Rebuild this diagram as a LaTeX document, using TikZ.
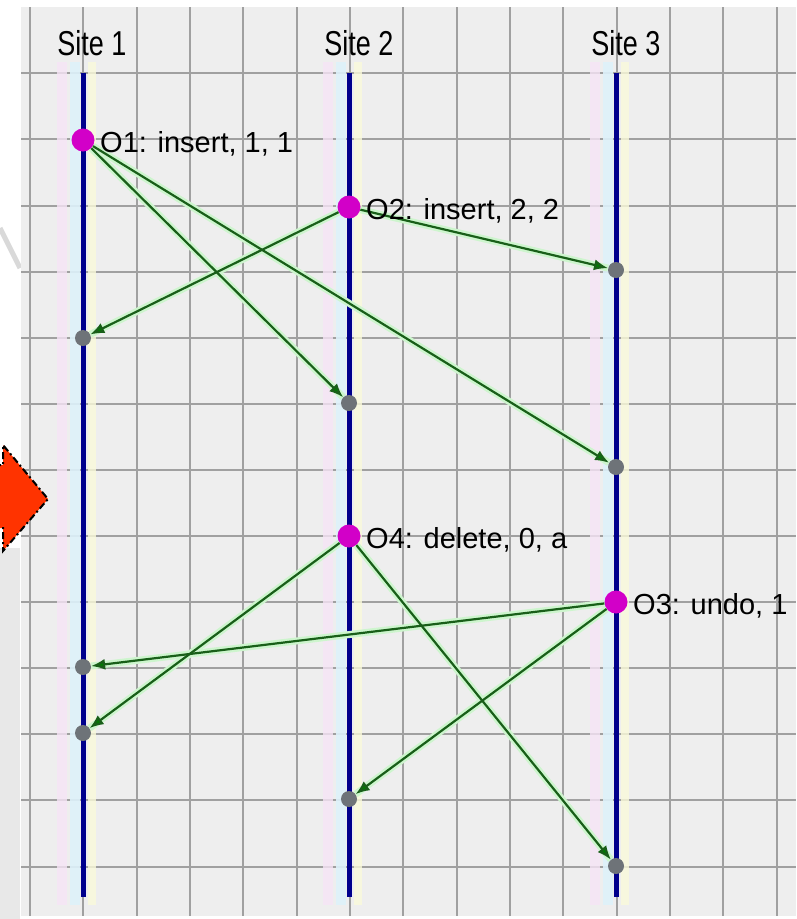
\documentclass[tikz,border=0pt]{standalone}
\usepackage{fontspec}
\setmainfont{Liberation Sans}
\usetikzlibrary{arrows.meta}
\definecolor{panelbg}{RGB}{238,238,238}
\definecolor{gridc}{RGB}{160,160,160}
\definecolor{sitec}{RGB}{0,0,140}
\definecolor{msgc}{RGB}{25,95,25}
\definecolor{headc}{RGB}{0,125,0}
\definecolor{haloc}{RGB}{205,245,205}
\definecolor{opc}{RGB}{210,0,200}
\definecolor{rcvc}{RGB}{110,115,120}
\definecolor{orangec}{RGB}{255,51,0}
\definecolor{palecyan}{RGB}{222,242,250}
\definecolor{palepink}{RGB}{246,228,246}
\definecolor{paleyel}{RGB}{250,250,218}
\begin{document}
\begin{tikzpicture}[x=1pt,y=-1pt,
  opdot/.style={circle,fill=opc,minimum size=23pt,inner sep=0pt},
  rcvdot/.style={circle,fill=rcvc,minimum size=16pt,inner sep=0pt},
  msg/.style={draw=msgc,line width=2.2pt,-{Latex[length=14pt,width=11pt,fill=headc]}},
  halo/.style={draw=haloc,line width=7pt},
  oplabel/.style={anchor=base west,inner sep=0pt,font=\fontsize{29}{30}\selectfont},
  sitelabel/.style={anchor=base,inner sep=0pt,font=\fontsize{27}{28}\selectfont},
  siteline/.style={draw=sitec,line width=5pt},
  gridline/.style={draw=gridc,line width=2pt}]
\useasboundingbox (0,0) rectangle (796,919);
\fill[white] (0,0) rectangle (796,919);
% left margin texture
\fill[gray!18] (0,548) rectangle (20,919);
\draw[gray!30,line width=5pt] (0,228) -- (20,268);
% panel
\fill[panelbg] (21,7) rectangle (796,916);
% grid
\foreach \k in {0,...,14} {
  \draw[gridline] ({30+53.33*\k},7) -- ({30+53.33*\k},916);
}
\foreach \k in {0,...,12} {
  \draw[gridline] (21,{73.3+66.1*\k}) -- (796,{73.3+66.1*\k});
}
% pastel bands beside the site lines
\foreach \sx in {83,349,616} {
  \fill[palepink,opacity=0.8] ({\sx-26},62) rectangle ({\sx-16},905);
  \fill[palecyan,opacity=0.9] ({\sx-13},62) rectangle ({\sx-3},905);
  \fill[paleyel,opacity=0.8] ({\sx+5},62) rectangle ({\sx+13},905);
}
% site lines
\coordinate (s1top) at (83,73);  \coordinate (s1bot) at (83,897);
\coordinate (s2top) at (349,73); \coordinate (s2bot) at (349,897);
\coordinate (s3top) at (616,73); \coordinate (s3bot) at (616,897);
\draw[siteline] (s1top) -- (s1bot);
\draw[siteline] (s2top) -- (s2bot);
\draw[siteline] (s3top) -- (s3bot);
% site labels
\node[sitelabel] (lab1) at (92,55) {\scalebox{1}[1.28]{Site 1}};
\node[sitelabel] (lab2) at (359,55) {\scalebox{1}[1.28]{Site 2}};
\node[sitelabel] (lab3) at (626,55) {\scalebox{1}[1.28]{Site 3}};
% events
\node[opdot] (O1) at (83,140) {};
\node[opdot] (O2) at (349,207) {};
\node[opdot] (O4) at (349,536) {};
\node[opdot] (O3) at (616,602) {};
\node[rcvdot] (r3a) at (616,270) {};
\node[rcvdot] (r1a) at (83,338) {};
\node[rcvdot] (r2a) at (349,403) {};
\node[rcvdot] (r3b) at (616,467) {};
\node[rcvdot] (r1b) at (83,667) {};
\node[rcvdot] (r1c) at (83,733) {};
\node[rcvdot] (r2b) at (349,799) {};
\node[rcvdot] (r3c) at (616,866) {};
% halos
\foreach \a/\b in {O1/r2a,O1/r3b,O2/r1a,O2/r3a,O4/r1c,O4/r3c,O3/r1b,O3/r2b} {
  \draw[halo] (\a) -- (\b);
}
% messages
\draw[msg] (O1) -- (r2a);
\draw[msg] (O1) -- (r3b);
\draw[msg] (O2) -- (r1a);
\draw[msg] (O2) -- (r3a);
\draw[msg] (O4) -- (r1c);
\draw[msg] (O4) -- (r3c);
\draw[msg] (O3) -- (r1b);
\draw[msg] (O3) -- (r2b);
% operation labels
\node[oplabel] (t1) at (100,152) {O1: insert, 1, 1};
\node[oplabel] (t2) at (366,219) {O2: insert, 2, 2};
\node[oplabel] (t4) at (366,548) {O4: delete, 0, a};
\node[oplabel] (t3) at (633,614) {O3: undo, 1};
% orange arrow at the left edge
\draw[fill=orangec,draw=black,line width=2pt,dash pattern=on 7pt off 3pt on 2pt off 3pt]
  (-6,465) -- (3,465) -- (3,445) -- (48,499) -- (3,551) -- (3,528) -- (-6,528);
\end{tikzpicture}
\end{document}
